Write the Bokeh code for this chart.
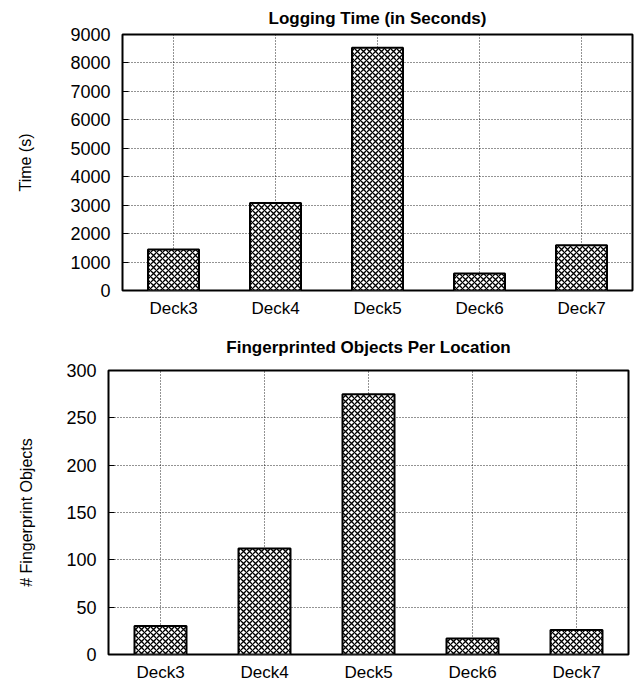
from bokeh.plotting import figure
from bokeh.models import ColumnDataSource, FactorRange, Range1d, SingleIntervalTicker
from bokeh.embed import file_html
from bokeh.resources import INLINE

# Data
decks = ["Deck3", "Deck4", "Deck5", "Deck6", "Deck7"]
logging_seconds = [1440, 3080, 8530, 600, 1590]
fingerprint_objects = [30, 112, 275, 17, 26]

FONT = "Liberation Sans"


def bar_panel(title, ylabel, values, ymax, step, width, height, left,
              top, bottom, right, label_standoff, title_standoff):
    src = ColumnDataSource(dict(deck=decks, val=values))
    p = figure(x_range=FactorRange(factors=decks), y_range=Range1d(0, ymax),
               width=width, height=height,
               min_border_left=left, min_border_right=right,
               min_border_top=top, min_border_bottom=bottom,
               output_backend="svg", toolbar_location=None,
               background_fill_color="white", border_fill_color="white")

    p.vbar(x="deck", top="val", width=0.5, source=src,
           fill_color="white", line_color="black", line_width=2,
           hatch_pattern="x", hatch_color="black", hatch_scale=6,
           hatch_weight=1.3)

    # frame
    p.outline_line_color = "black"
    p.outline_line_width = 2
    p.outline_line_alpha = 1

    # dotted grid
    for g in (p.xgrid, p.ygrid):
        g.grid_line_color = "black"
        g.grid_line_dash = "1 2"
        g.grid_line_width = 1
        g.grid_line_alpha = 0.85

    # title
    p.title.text = title
    p.title.align = "center"
    p.title.text_font = FONT
    p.title.text_font_size = "17px"
    p.title.text_font_style = "bold"
    p.title.text_color = "black"
    p.title.standoff = title_standoff

    # x axis
    xa = p.xaxis[0]
    xa.axis_line_color = None
    xa.major_tick_in = 0
    xa.major_tick_out = 0
    xa.major_label_standoff = 8
    xa.major_label_text_font = FONT
    xa.major_label_text_font_size = "17px"
    xa.major_label_text_color = "black"

    # y axis
    ya = p.yaxis[0]
    ya.ticker = SingleIntervalTicker(interval=step, num_minor_ticks=0)
    ya.axis_line_color = None
    ya.major_tick_in = 6
    ya.major_tick_out = 0
    ya.major_tick_line_color = "black"
    ya.minor_tick_line_color = None
    ya.major_label_standoff = 12
    ya.major_label_text_font = FONT
    ya.major_label_text_font_size = "18px"
    ya.major_label_text_color = "black"
    ya.axis_label = ylabel
    ya.axis_label_text_font = FONT
    ya.axis_label_text_font_size = "16px"
    ya.axis_label_text_font_style = "normal"
    ya.axis_label_text_color = "black"
    ya.axis_label_standoff = label_standoff
    return p


p1 = bar_panel("Logging Time (in Seconds)", "Time (s)", logging_seconds,
               9000, 1000, width=642, height=320, left=122,
               top=34, bottom=30, right=10, label_standoff=33,
               title_standoff=13)
p2 = bar_panel("Fingerprinted Objects Per Location", "# Fingerprint Objects",
               fingerprint_objects, 300, 50, width=642, height=364, left=108,
               top=50, bottom=30, right=14, label_standoff=28,
               title_standoff=28)

# two independent roots, stacked on the page
open("out.html", "w").write(file_html([p1, p2], INLINE))
